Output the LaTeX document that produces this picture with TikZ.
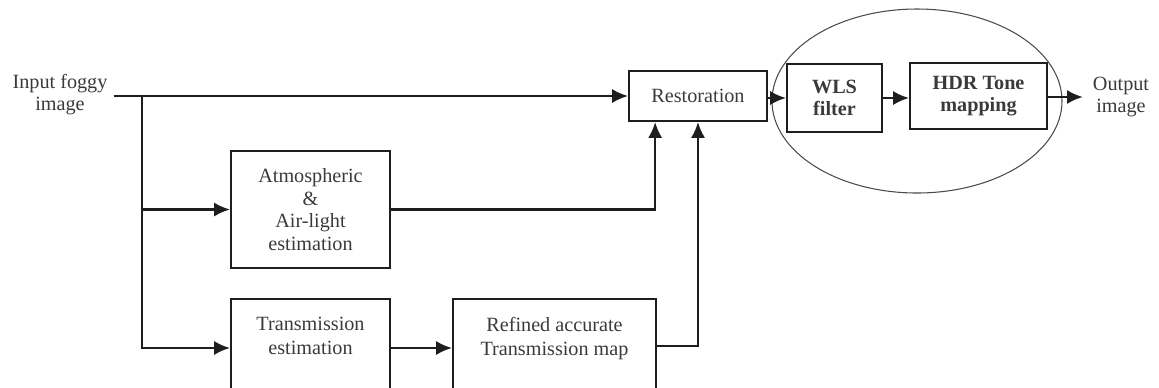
\documentclass[tikz,border=0pt]{standalone}
\usepackage{fontspec}
\setmainfont{Liberation Serif}
\usetikzlibrary{positioning,arrows.meta,shapes.geometric}
\definecolor{FogInk}{HTML}{3A3A3A}
\definecolor{FogLine}{HTML}{1E1E1E}
\definecolor{FogRing}{HTML}{4A4A4A}

\tikzset{
  stagebox/.style={draw=FogLine, line width=1.1pt, inner sep=0pt, align=center, text=FogInk},
  flow/.style={-{Latex[length=9pt,width=8pt]}, FogLine, line width=1.4pt},
}

\begin{document}
\begin{tikzpicture}[x=0.02cm, y=-0.02cm, font=\fontsize{11.5}{13.6}\selectfont]
  \useasboundingbox (0,0) rectangle (1159,387);
  \clip (0,0) rectangle (1159,387);

  % enhancement stage round the last two blocks
  \node[ellipse, draw=FogRing, line width=0.6pt, inner sep=0pt,
        minimum width=290*0.02cm, minimum height=184*0.02cm] (enhance) at (917,101) {};

  \node[align=center, text=FogInk, font=\fontsize{11.5}{12.5}\selectfont] (input) at (60,95) {Input foggy\\image};
  \coordinate (split) at (142,95);

  \node[stagebox, minimum width=138*0.02cm, minimum height=50*0.02cm] (restore) at (698,96) {Restoration};
  \node[stagebox, minimum width=95*0.02cm, minimum height=68*0.02cm,
        font=\bfseries\fontsize{11.5}{12.5}\selectfont] (wls) at (834.5,98) {WLS\\filter};
  \node[stagebox, minimum width=137*0.02cm, minimum height=66*0.02cm,
        font=\bfseries\fontsize{11.5}{12.5}\selectfont] (hdr) at (978.5,96) {HDR Tone\\mapping};
  \node[align=center, text=FogInk, inner xsep=5.5pt, font=\fontsize{11.5}{12}\selectfont] (output) at (1121,97) {Output\\image};

  \node[stagebox, minimum width=159*0.02cm, minimum height=117*0.02cm,
        font=\fontsize{11.5}{13}\selectfont] (atmos) at (310.5,209.5) {Atmospheric\\\&\\Air-light\\estimation};

  \node[stagebox, minimum width=159*0.02cm, minimum height=98*0.02cm] (trans) at (310.5,348) {};
  \node[below=7.5pt of trans.north, align=center, text=FogInk] (transtext) {Transmission\\estimation};
  \node[stagebox, minimum width=203*0.02cm, minimum height=94*0.02cm] (refine) at (554.5,346) {};
  \node[below=7.5pt of refine.north, align=center, text=FogInk] (refinetext) {Refined accurate\\Transmission map};

  % connectors
  \draw[flow] (input.east |- restore.west) -- (restore.west);
  \draw[flow] (split) |- (atmos.west);
  \draw[flow] (split) |- (trans.west);
  \draw[flow] (atmos.east) -| ([xshift=-24.4pt]restore.south);
  \draw[flow] (refine.east) -| (restore.south);
  \draw[flow] (trans.east) -- (trans.east -| refine.west);
  \draw[flow] (restore.east |- wls.west) -- (wls.west);
  \draw[flow] (wls.east) -- (wls.east -| hdr.west);
  \draw[flow] (hdr.east |- output.west) -- (output.west);
\end{tikzpicture}
\end{document}
